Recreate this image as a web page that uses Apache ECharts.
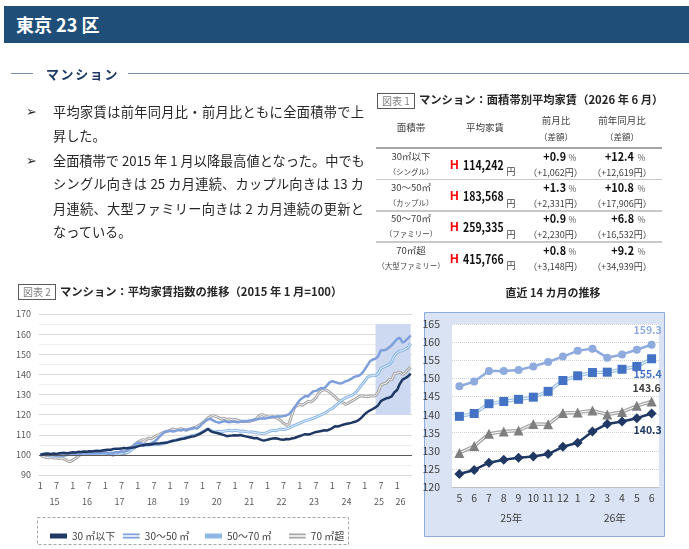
<!DOCTYPE html>
<html lang="ja">
<head>
<meta charset="UTF-8">
<title>東京23区 マンション 平均家賃</title>
<script src="https://cdn.jsdelivr.net/npm/echarts@6/dist/echarts.min.js"></script>
<style>
  body { margin: 0; background: #fff; font-family: 'Noto Sans CJK JP', sans-serif; color: #262626; }
  #page { position: relative; width: 689px; height: 549px; overflow: hidden; }
  #chart { position: absolute; left: 0; top: 0; width: 689px; height: 549px; }
  .abs { position: absolute; white-space: nowrap; line-height: 1; }
  .c { transform: translate(-50%, -50%); }
  .l { transform: translate(0, -50%); }
  .r { transform: translate(-100%, -50%); }
  .ln { transform-origin: 0 50%; transform: translate(0, -50%) scaleX(0.84); }
  .rn { transform-origin: 100% 50%; transform: translate(-100%, -50%) scaleX(0.9); }

  .header { position: absolute; left: 4px; top: 6px; width: 685px; height: 37px; background: #1F4E79;
            color: #fff; font-weight: bold; font-size: 18px; line-height: 37px; padding-left: 12px; box-sizing: border-box; }
  .rule { position: absolute; height: 1.5px; background: #7A8FAD; }
  .bullet { position: absolute; left: 53px; width: 311px; font-size: 13.2px; color: #262626; line-height: 1; white-space: nowrap; }
  .just { text-align: justify; text-align-last: justify; }
  .mark { position: absolute; left: 26px; font-size: 13px; font-weight: bold; line-height: 1; font-family: 'DejaVu Sans', sans-serif; }
  .figbox { position: absolute; border: 1px solid #595959; color: #7F7F7F; font-size: 10px;
            line-height: 14px; padding: 0 4px; }
  .figtitle { font-weight: bold; font-size: 11.3px; color: #262626; }
  .tline { position: absolute; left: 376px; width: 286px; }
</style>
</head>
<body>
<div id="page">
  <div id="chart"></div>

  <div class="header">東京 23 区</div>

  <div class="rule" style="left:11px;top:72.5px;width:22px;"></div>
  <div class="abs l" style="left:46px;top:73px;font-size:13px;font-weight:bold;color:#1F3864;letter-spacing:1.6px;">マンション</div>
  <div class="rule" style="left:128px;top:72.5px;width:561px;"></div>

  <div class="mark" style="top:105px;">➢</div>
  <div class="bullet just" style="top:105px;">平均家賃は前年同月比・前月比ともに全面積帯で上</div>
  <div class="bullet" style="top:129px;">昇した。</div>
  <div class="mark" style="top:154px;">➢</div>
  <div class="bullet just" style="top:154px;">全面積帯で 2015 年 1 月以降最高値となった。中でも</div>
  <div class="bullet just" style="top:177px;">シングル向きは 25 カ月連続、カップル向きは 13 カ</div>
  <div class="bullet just" style="top:202px;">月連続、大型ファミリー向きは 2 カ月連続の更新と</div>
  <div class="bullet" style="top:225px;">なっている。</div>

  <!-- 図表1 -->
  <div class="figbox" style="left:377px;top:93px;">図表 1</div>
  <div class="abs l figtitle" style="left:419px;top:100px;">マンション：面積帯別平均家賃（2026 年 6 月）</div>
  <div id="table"></div>

  <!-- 図表2 -->
  <div class="figbox" style="left:18px;top:284px;">図表 2</div>
  <div class="abs l figtitle" style="left:60px;top:292px;">マンション：平均家賃指数の推移（2015 年 1 月=100）</div>
  <div class="abs c figtitle" style="left:553px;top:292px;font-size:11px;">直近 14 カ月の推移</div>
</div>

<script>
// ---- 図表1 data ----
const tableBands = ['30㎡以下', '30～50㎡', '50～70㎡', '70㎡超'];
const tableTypes = ['（シングル）', '（カップル）', '（ファミリー）', '（大型ファミリー）'];
const tableRent = ['114,242', '183,568', '259,335', '415,766'];
const tableMoM = ['+0.9', '+1.3', '+0.9', '+0.8'];
const tableMoMDiff = ['（+1,062円）', '（+2,331円）', '（+2,230円）', '（+3,148円）'];
const tableYoY = ['+12.4', '+10.8', '+6.8', '+9.2'];
const tableYoYDiff = ['（+12,619円）', '（+17,906円）', '（+16,532円）', '（+34,939円）'];

// ---- 図表2 data: index, 2015-01 .. 2025-04 ----
const hist30 = [
  100.0,100.3,100.5,100.6,100.4,100.7,100.5,100.8,100.9,101.0,100.8,101.1,
  101.3,101.2,101.5,101.4,101.6,101.5,101.8,101.7,101.9,102.0,101.9,102.2,
  102.4,102.6,102.5,102.9,103.1,103.0,103.2,103.4,103.3,103.5,103.6,103.8,
  104.2,104.6,104.8,105.0,105.3,105.2,105.5,105.7,105.6,105.9,106.0,106.2,
  106.6,107.0,107.2,107.5,107.9,108.0,108.4,108.8,109.1,109.3,109.8,110.4,
  111.2,112.0,112.9,111.8,111.2,111.0,110.6,110.2,109.8,109.3,109.5,109.6,
  109.8,109.6,109.9,109.5,109.2,108.9,108.6,108.3,108.4,107.8,107.3,107.2,
  107.5,107.9,108.1,108.3,108.0,107.6,107.5,107.9,107.8,108.1,108.4,108.9,
  109.4,109.8,110.3,110.1,110.4,110.9,111.4,111.6,111.9,112.2,112.1,112.6,
  113.3,114.2,114.1,114.5,115.0,115.3,115.6,115.9,116.3,116.7,117.5,118.8,
  120.2,121.3,122.1,122.8
];
const hist3050 = [
  100.0,100.4,100.9,100.6,100.2,99.8,99.6,99.9,99.5,99.7,100.2,100.4,
  100.2,100.6,100.8,100.5,101.0,100.7,100.9,101.1,100.8,101.2,101.0,100.9,
  101.1,100.8,100.6,101.0,101.4,101.2,101.8,101.6,102.1,102.8,104.0,105.2,
  106.2,105.8,105.4,105.6,105.2,105.8,106.4,107.5,108.9,110.2,111.4,111.8,
  112.0,111.6,111.9,112.3,112.1,112.6,112.4,112.8,113.0,113.4,113.1,114.2,
  115.6,116.8,117.6,117.9,117.0,116.4,116.0,116.3,116.8,116.5,116.2,116.6,
  116.4,116.2,116.5,116.8,116.6,117.0,117.2,117.5,117.6,117.9,118.2,118.0,
  118.3,118.6,118.8,119.0,119.2,119.1,119.3,119.6,120.2,121.8,123.4,125.5,
  127.3,128.3,129.2,129.0,130.4,131.6,131.8,132.6,133.3,133.0,134.4,136.0,
  136.6,136.2,135.8,135.4,135.9,136.6,137.0,137.8,138.6,139.1,139.4,140.6,
  142.4,144.5,146.6,147.4
];
const hist5070 = [
  100.0,100.5,100.2,99.8,99.6,99.4,99.7,99.5,99.9,100.1,100.0,100.3,
  100.2,100.5,100.4,100.7,100.6,100.4,100.8,100.6,100.5,100.9,100.7,101.0,
  100.8,100.9,101.1,100.7,100.5,101.0,100.8,101.2,101.0,101.6,102.8,103.8,
  104.6,104.9,104.7,105.0,104.8,105.2,105.0,105.3,105.1,105.5,105.8,106.2,
  106.6,106.9,107.3,107.6,108.0,108.3,108.6,109.0,109.5,109.8,110.2,110.6,
  111.4,112.2,113.0,112.2,111.6,111.4,111.7,111.5,111.8,112.0,112.2,111.9,
  112.2,112.0,111.7,111.9,111.6,111.3,111.5,111.2,111.0,110.8,110.6,110.7,
  111.2,111.8,112.2,112.0,112.4,112.9,112.6,112.9,113.3,114.0,114.6,115.2,
  115.8,116.4,116.9,117.3,117.8,118.2,118.7,119.4,120.0,120.6,121.4,122.5,
  123.0,124.2,125.4,126.6,127.6,128.4,128.9,129.4,130.2,131.5,133.2,135.0,
  136.6,138.5,139.2,139.6
];
const hist70 = [
  100.0,99.2,98.8,98.6,98.9,98.4,98.6,98.2,98.5,97.8,97.0,96.6,
  97.4,98.2,99.3,100.4,101.8,101.3,101.0,101.6,101.2,100.8,101.4,101.0,
  101.2,100.8,100.4,99.8,100.6,101.3,100.9,100.5,101.2,102.4,104.0,105.3,
  106.2,107.0,107.6,107.2,108.4,108.0,108.8,109.6,110.1,110.8,111.4,111.7,
  112.2,112.9,112.4,112.6,113.0,112.6,112.2,112.8,113.1,113.6,114.2,115.0,
  115.9,117.0,118.3,119.2,119.5,119.0,118.5,117.8,118.2,117.6,117.9,117.4,
  117.6,117.2,116.9,116.5,116.8,116.4,116.9,117.2,118.0,119.6,120.0,119.4,
  119.0,118.8,118.9,118.6,117.9,117.0,115.8,114.6,115.5,119.5,123.5,124.6,
  125.0,124.7,125.6,126.6,126.3,127.2,128.4,130.8,131.9,132.4,132.0,131.2,
  130.0,128.8,127.5,126.6,126.0,125.0,125.8,126.6,127.4,128.2,129.1,129.4,
  129.0,128.9,129.3,129.2
];

// ---- 直近14カ月: 2025-05 .. 2026-06 ----
const recent30   = [123.6,124.7,126.7,127.5,128.1,128.4,129.1,131.1,132.2,135.3,137.4,138.1,139.0,140.3];
const recent3050 = [147.8,149.1,152.0,152.0,152.3,153.3,154.5,156.0,157.6,158.2,155.7,156.6,157.9,159.3];
const recent5070 = [139.5,140.3,143.0,143.6,144.2,144.8,146.4,149.4,150.7,151.6,151.7,152.5,153.3,155.4];
const recent70   = [129.4,131.3,134.7,135.3,135.6,137.4,137.3,140.4,140.6,141.1,140.0,140.7,142.4,143.6];

const seriesNames = ['30 ㎡以下', '30～50 ㎡', '50～70 ㎡', '70 ㎡超'];

// months 2015-1 .. 2026-6
const months = [];
for (let y = 2015; y <= 2026; y++) {
  for (let m = 1; m <= 12; m++) {
    if (y === 2026 && m > 6) break;
    months.push(y + '-' + m);
  }
}
const recentMonths = months.slice(-14);

// ---- table ----
(function buildTable() {
  const el = document.getElementById('table');
  let h = '';
  const put = (cls, x, y, style, txt) => {
    h += '<div class="abs ' + cls + '" style="left:' + x + 'px;top:' + y + 'px;' + style + '">' + txt + '</div>';
  };
  const hs = 'font-size:9.5px;color:#404040;';
  put('c', 411, 128, hs, '面積帯');
  put('c', 485, 128, hs, '平均家賃');
  put('c', 556, 121, hs, '前月比');
  put('c', 556, 136, 'font-size:8.5px;color:#404040;', '（差額）');
  put('c', 622, 121, hs, '前年同月比');
  put('c', 622, 136, 'font-size:8.5px;color:#404040;', '（差額）');
  h += '<div class="tline" style="top:147px;height:2px;background:#A6A6A6;"></div>';
  for (let r = 0; r < tableBands.length; r++) {
    const b = 147.7 + r * 31.3;
    put('c', 411, b + 9, 'font-size:9.5px;color:#404040;', tableBands[r]);
    put('c', 411, b + 24, 'font-size:7.5px;color:#404040;', tableTypes[r]);
    put('l', 450, b + 17, 'font-size:12px;font-weight:bold;color:#FF0000;font-family:Liberation Sans,sans-serif;', 'H');
    put('ln', 462.5, b + 17, 'font-size:12.5px;font-weight:bold;color:#111;', tableRent[r]);
    put('l', 506.5, b + 23.5, 'font-size:9px;color:#404040;', '円');
    put('rn', 566, b + 8, 'font-size:12px;font-weight:bold;color:#111;', tableMoM[r]);
    put('l', 568.5, b + 9, 'font-size:8.5px;color:#595959;', '%');
    put('c', 555.5, b + 24, 'font-size:9px;color:#404040;', tableMoMDiff[r]);
    put('rn', 634, b + 8, 'font-size:12px;font-weight:bold;color:#111;', tableYoY[r]);
    put('l', 637.5, b + 9, 'font-size:8.5px;color:#595959;', '%');
    put('c', 622, b + 24, 'font-size:9px;color:#404040;', tableYoYDiff[r]);
    if (r < tableBands.length - 1) {
      h += '<div class="tline" style="top:' + (b + 31) + 'px;height:1.5px;background:#C8C8C8;"></div>';
    }
  }
  el.innerHTML = h;
})();

// ---- charts ----
const chart = echarts.init(document.getElementById('chart'), null, { renderer: 'canvas' });

const left30 = hist30.concat(recent30);
const left3050 = hist3050.concat(recent3050);
const left5070 = hist5070.concat(recent5070);
const left70 = hist70.concat(recent70);

const doubleIcon = 'path://M0,0H20V2H0ZM0,4H20V6H0Z';

// only last point gets a value label
function withEndLabel(arr, color, position, offset) {
  return arr.map((v, i) => i === arr.length - 1
    ? { value: v, label: { show: true, position: position, offset: offset, color: color,
        fontWeight: 'bold', fontSize: 10.5, formatter: (p) => p.value.toFixed(1) } }
    : v);
}

const leftLine = (name, data, color, width, z) => ({
  name: name, type: 'line', xAxisIndex: 0, yAxisIndex: 0, data: data,
  symbol: 'none', showSymbol: false, z: z,
  lineStyle: { color: color, width: width }, itemStyle: { color: color }
});

// one legend per item so each sits where the reference has it
const legendLeft = [45, 118, 200, 284];
const legendIcon = ['rect', doubleIcon, 'rect', doubleIcon];
const legends = seriesNames.map((n, i) => ({
  left: legendLeft[i], top: 526, itemWidth: 17, itemHeight: 5, itemGap: 0,
  selectedMode: false, textStyle: { fontSize: 10, color: '#404040' },
  data: [{ name: n, icon: legendIcon[i] }]
}));

const option = {
  animation: false,
  textStyle: { fontFamily: 'Noto Sans CJK JP, sans-serif' },
  graphic: [
    { type: 'rect', z: -10, shape: { x: 424.5, y: 312.5, width: 240, height: 224 },
      style: { fill: '#DAE3F3', stroke: '#8FAADC', lineWidth: 1 } },
    { type: 'rect', z: -10, shape: { x: 37.5, y: 517.5, width: 311, height: 27 },
      style: { fill: 'none', stroke: '#A6A6A6', lineWidth: 1, lineDash: [3, 2] } }
  ],
  legend: legends,
  grid: [
    { left: 39, right: 277, top: 314, bottom: 74 },
    { left: 452, right: 30, top: 324, bottom: 62, show: true, backgroundColor: '#fff', borderWidth: 0 }
  ],
  xAxis: [
    {
      type: 'category', gridIndex: 0, data: months, boundaryGap: true,
      axisLine: { lineStyle: { color: '#D9D9D9' } },
      axisTick: { interval: (i) => i % 12 === 0, length: 32, lineStyle: { color: '#D9D9D9' } },
      axisLabel: { interval: (i) => i % 12 === 0 || i % 12 === 6, formatter: (v) => v.split('-')[1],
                   fontSize: 9, color: '#595959', margin: 6 }
    },
    {
      type: 'category', gridIndex: 0, data: months, position: 'bottom', offset: 16,
      axisLine: { show: false }, axisTick: { show: false },
      axisLabel: { interval: (i) => (i < 132 ? i % 12 === 6 : i === 134), formatter: (v) => v.slice(2, 4),
                   fontSize: 9, color: '#595959', margin: 6, padding: [0, 4, 0, 0] }
    },
    {
      type: 'category', gridIndex: 1, data: recentMonths, boundaryGap: true,
      axisLine: { lineStyle: { color: '#BFBFBF' } },
      axisTick: { interval: (i) => i === 0 || i === 8, length: 40, lineStyle: { color: '#A6A6A6' } },
      axisLabel: { interval: 0, formatter: (v) => v.split('-')[1], fontSize: 10.5, color: '#404040', margin: 6 }
    },
    {
      type: 'category', gridIndex: 1, data: recentMonths, position: 'bottom', offset: 20,
      axisLine: { show: false }, axisTick: { show: false },
      axisLabel: { interval: (i) => i === 3 || i === 10, formatter: (v) => v.slice(2, 4) + '年',
                   fontSize: 10.5, color: '#404040', margin: 6, padding: [0, 0, 0, 15] }
    }
  ],
  yAxis: [
    {
      type: 'value', gridIndex: 0, min: 90, max: 170, interval: 10,
      axisLine: { show: false }, axisTick: { show: false },
      axisLabel: { fontSize: 9, color: '#595959', margin: 8 },
      splitLine: { lineStyle: { color: '#D9D9D9' } },
      minorTick: { show: false, splitNumber: 2 },
      minorSplitLine: { show: true, lineStyle: { color: '#EFEFEF' } }
    },
    {
      type: 'value', gridIndex: 1, min: 120, max: 165, interval: 5,
      axisLine: { show: false }, axisTick: { show: false },
      axisLabel: { fontSize: 10.5, color: '#404040', margin: 12 },
      splitLine: { lineStyle: { color: '#D0D0D0', type: 'dotted' } }
    }
  ],
  series: [
    // shade for recent 14 months + 100 line
    {
      name: 'bg', type: 'line', xAxisIndex: 0, yAxisIndex: 0, data: [], z: 1, silent: true,
      markArea: { silent: true, itemStyle: { color: '#CDD9F0' },
        data: [[{ xAxis: recentMonths[0], yAxis: 120 }, { xAxis: recentMonths[13], yAxis: 165 }]] },
      markLine: { silent: true, symbol: 'none', label: { show: false }, animation: false,
        lineStyle: { color: '#595959', width: 1, type: 'solid' }, data: [{ yAxis: 100 }] }
    },
    leftLine(seriesNames[3], left70, '#A6A6A6', 3, 2),
    leftLine(seriesNames[3], left70, '#F2F2F2', 1, 2),
    leftLine(seriesNames[2], left5070, '#8DB8E6', 3, 3),
    leftLine(seriesNames[2], left5070, '#E4EFFA', 1, 3),
    leftLine(seriesNames[1], left3050, '#7F9FDB', 2.5, 4),
    leftLine(seriesNames[0], left30, '#1F3864', 2.5, 5),

    // right chart
    {
      name: 'r30-50', type: 'line', xAxisIndex: 2, yAxisIndex: 1, z: 3,
      data: withEndLabel(recent3050, '#8FAADC', 'top', [-4, 0]),
      symbol: 'circle', symbolSize: 8,
      lineStyle: { color: '#8FAADC', width: 2.5 }, itemStyle: { color: '#8FAADC' }
    },
    {
      name: 'r50-70o', type: 'line', xAxisIndex: 2, yAxisIndex: 1, z: 3, data: recent5070,
      symbol: 'none', lineStyle: { color: '#9DC3E6', width: 3.5 }
    },
    {
      name: 'r50-70', type: 'line', xAxisIndex: 2, yAxisIndex: 1, z: 3,
      data: withEndLabel(recent5070, '#4472C4', 'bottom', [-4, 0]),
      symbol: 'rect', symbolSize: 9,
      lineStyle: { color: '#FFFFFF', width: 1 }, itemStyle: { color: '#4472C4' }
    },
    {
      name: 'r70o', type: 'line', xAxisIndex: 2, yAxisIndex: 1, z: 3, data: recent70,
      symbol: 'none', lineStyle: { color: '#A5A5A5', width: 3.5 }
    },
    {
      name: 'r70', type: 'line', xAxisIndex: 2, yAxisIndex: 1, z: 3,
      data: withEndLabel(recent70, '#404040', 'top', [-5, 2]),
      symbol: 'triangle', symbolSize: 10,
      lineStyle: { color: '#FFFFFF', width: 1 }, itemStyle: { color: '#7F7F7F' }
    },
    {
      name: 'r30', type: 'line', xAxisIndex: 2, yAxisIndex: 1, z: 4,
      data: withEndLabel(recent30, '#1F3864', 'bottom', [-4, 1]),
      symbol: 'diamond', symbolSize: 10,
      lineStyle: { color: '#1F3864', width: 2.5 }, itemStyle: { color: '#1F3864' }
    }
  ]
};

chart.setOption(option);
</script>
</body>
</html>
